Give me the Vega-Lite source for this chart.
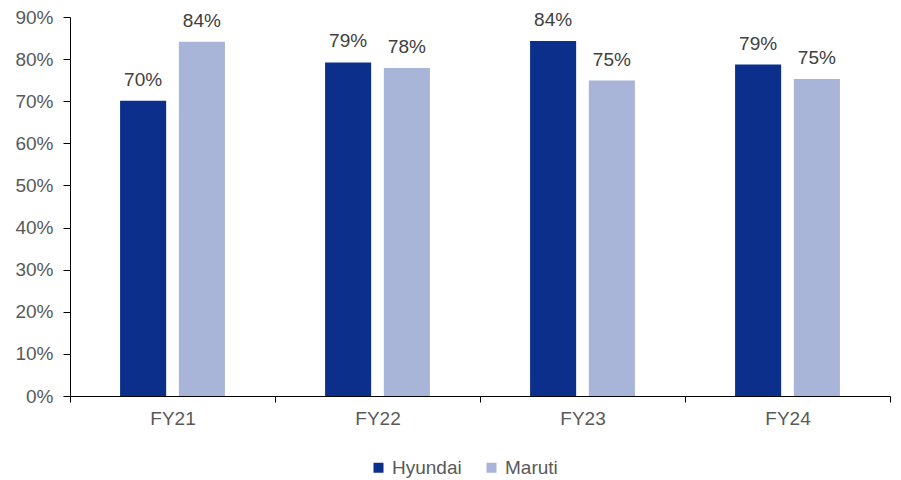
{
  "$schema": "https://vega.github.io/schema/vega-lite/v6.json",
  "width": 820,
  "height": 379,
  "autosize": "none",
  "padding": {"left": 70, "top": 17, "right": 11, "bottom": 84},
  "background": "white",
  "data": {
    "values": [
      {"year": "FY21", "brand": "Hyundai", "value": 0.701},
      {"year": "FY21", "brand": "Maruti", "value": 0.841},
      {"year": "FY22", "brand": "Hyundai", "value": 0.792},
      {"year": "FY22", "brand": "Maruti", "value": 0.779},
      {"year": "FY23", "brand": "Hyundai", "value": 0.843},
      {"year": "FY23", "brand": "Maruti", "value": 0.749},
      {"year": "FY24", "brand": "Hyundai", "value": 0.787},
      {"year": "FY24", "brand": "Maruti", "value": 0.753}
    ]
  },
  "encoding": {
    "x": {
      "field": "year", "type": "nominal",
      "scale": {"paddingInner": 0, "paddingOuter": 0},
      "axis": {
        "title": null, "labelAngle": 0, "tickBand": "extent",
        "domainColor": "#000000", "tickColor": "#000000", "tickSize": 6,
        "labelFont": "Liberation Sans", "labelFontSize": 19, "labelColor": "#595959",
        "labelPadding": 7, "grid": false
      }
    },
    "xOffset": {
      "field": "brand", "type": "nominal",
      "scale": {"paddingInner": 0.216, "paddingOuter": 0.852}
    },
    "y": {
      "field": "value", "type": "quantitative",
      "scale": {"domain": [0, 0.9], "nice": false},
      "axis": {
        "title": null, "format": ".0%", "values": [0, 0.1, 0.2, 0.3, 0.4, 0.5, 0.6, 0.7, 0.8, 0.9],
        "grid": false, "domainColor": "#000000", "tickColor": "#000000", "tickSize": 7,
        "labelFont": "Liberation Sans", "labelFontSize": 19, "labelColor": "#595959",
        "labelPadding": 10
      }
    }
  },
  "layer": [
    {
      "mark": {"type": "bar"},
      "encoding": {
        "color": {
          "field": "brand", "type": "nominal",
          "scale": {"domain": ["Hyundai", "Maruti"], "range": ["#0B2F8A", "#A8B4D8"]},
          "legend": {
            "title": null, "orient": "none", "direction": "horizontal",
            "legendX": 299, "legendY": 441,
            "symbolType": "square", "symbolSize": 100, "symbolStrokeWidth": 0,
            "labelFont": "Liberation Sans", "labelFontSize": 19, "labelColor": "#595959",
            "columnPadding": 20, "labelOffset": 4
          }
        }
      }
    },
    {
      "mark": {"type": "text", "baseline": "alphabetic", "dy": -15, "font": "Liberation Sans", "fontSize": 19, "color": "#404040"},
      "encoding": {
        "text": {"field": "value", "type": "quantitative", "format": ".0%"}
      }
    }
  ],
  "config": {"view": {"stroke": null}}
}
